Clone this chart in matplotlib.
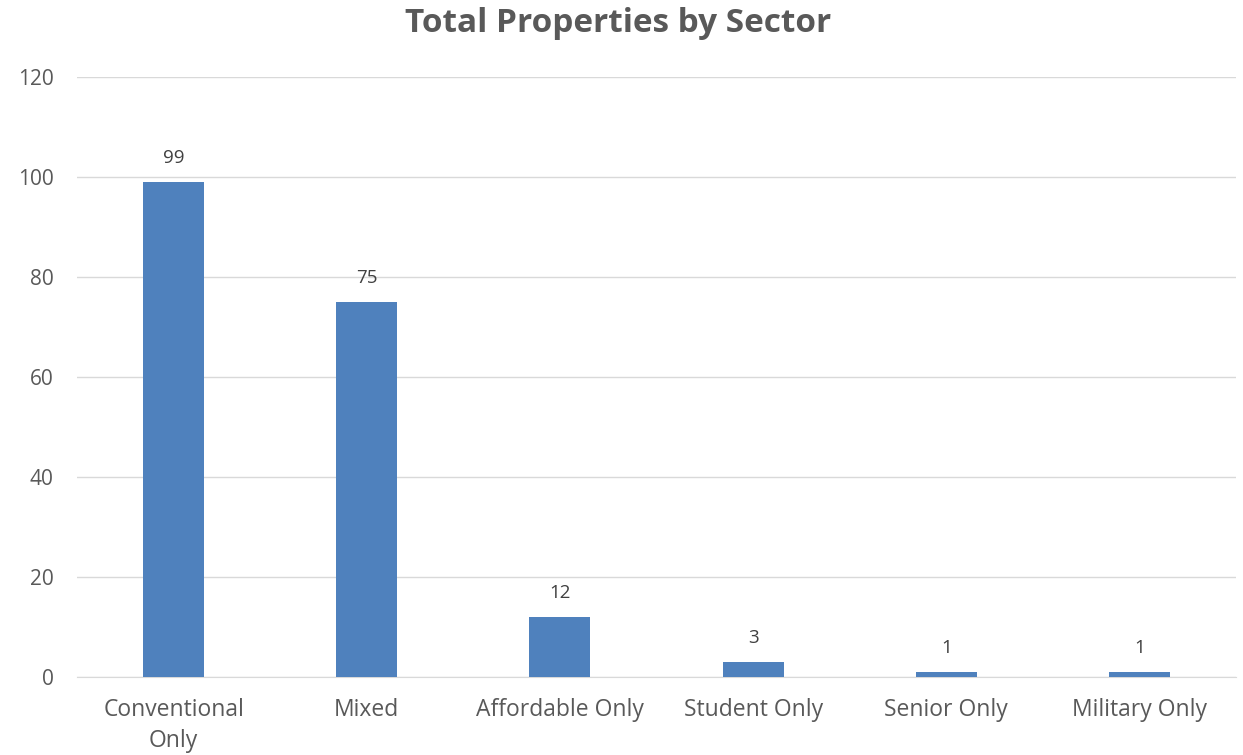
import matplotlib
matplotlib.use("Agg")
import matplotlib.pyplot as plt

categories = ["Conventional\nOnly", "Mixed", "Affordable Only", "Student Only", "Senior Only", "Military Only"]
values = [99, 75, 12, 3, 1, 1]
yticks = [0, 20, 40, 60, 80, 100, 120]

plt.rcParams['font.family'] = ['Open Sans', 'DejaVu Sans']
txt = '#595959'
fs = 16.5
fig = plt.figure(figsize=(12.43, 7.55), dpi=100)
ax = fig.add_axes([77/1243, 1-677/755, (1236-77)/1243, 600/755])
x = list(range(len(categories)))
ax.bar(x, values, width=0.316, color='#4F81BD', zorder=3)
for xi, v in zip(x, values):
    ax.text(xi, v + 3, str(v), ha='center', va='bottom', fontsize=13.5, color='#404040')
ax.set_xlim(-0.5, len(categories) - 0.5)
ax.set_ylim(0, 120)
ax.set_yticks(yticks)
ax.set_yticklabels([str(t) for t in yticks], fontsize=15, color=txt)
ax.set_xticks(x)
ax.set_xticklabels(categories, fontsize=fs, color=txt, linespacing=1.4)
ax.yaxis.grid(True, color='#D9D9D9', linewidth=1, zorder=0)
for s in ['top', 'right', 'left']:
    ax.spines[s].set_visible(False)
ax.spines['bottom'].set_color('#D9D9D9')
ax.tick_params(axis='both', length=0)
ax.tick_params(axis='y', pad=17)
ax.tick_params(axis='x', pad=15)
fig.text(618/1243, 1-23/755, "Total Properties by Sector", ha='center', va='center',
         fontsize=24, fontweight='bold', color=txt)
fig.savefig("out.png", dpi=100)
